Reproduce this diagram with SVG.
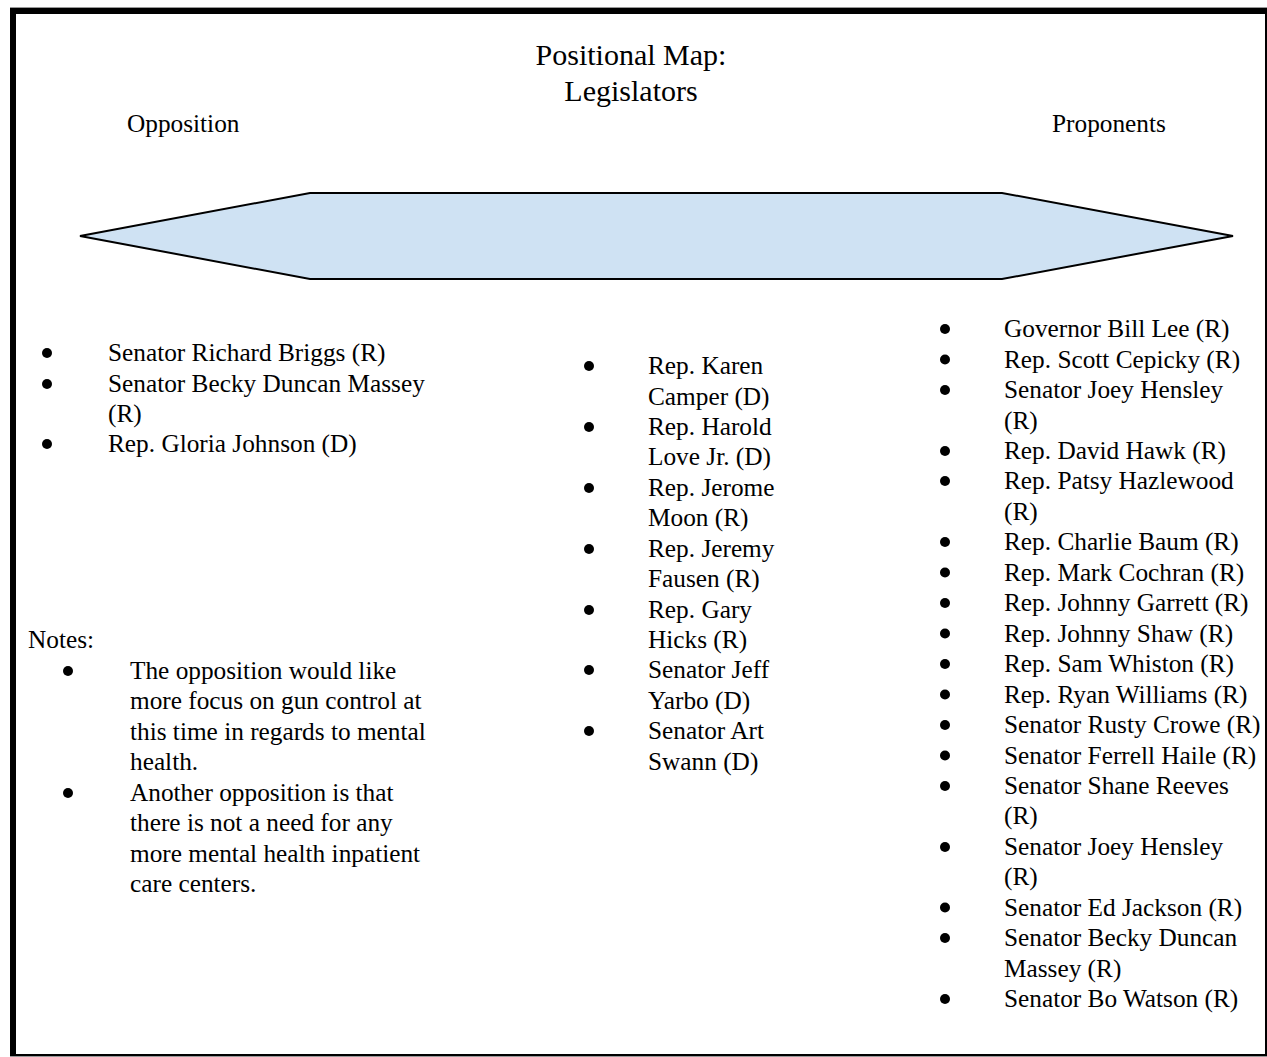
<svg xmlns="http://www.w3.org/2000/svg" width="1267" height="1057" viewBox="0 0 1267 1057">
<style>
  text { font-family: "Liberation Serif", "Times New Roman", serif; fill: #000; }
  .t { font-size: 25.3px; }
  .title { font-size: 30px; text-anchor: middle; }
  .b { fill: #000; }
</style>
<rect width="1267" height="1057" fill="#fff"/>
<line x1="10" y1="7.5" x2="1267" y2="7.5" stroke="#999" stroke-width="1"/>
<rect x="13" y="11" width="1255" height="1046" fill="none" stroke="#000" stroke-width="6"/>
<line x1="10" y1="1056.5" x2="1267" y2="1056.5" stroke="#999" stroke-width="1"/>

<g id="title">
  <text class="title" x="631" y="65">Positional Map:</text>
  <text class="title" x="631" y="101">Legislators</text>
</g>
<g id="label-opposition"><text class="t" x="127" y="132">Opposition</text></g>
<g id="label-proponents"><text class="t" x="1052" y="132">Proponents</text></g>

<g id="spectrum">
  <polygon points="80,236 310,193 1002,193 1233,236 1002,279 310,279" fill="#cfe2f3" stroke="#000" stroke-width="2" stroke-linejoin="miter"/>
</g>

<g id="opposition-list">
  <circle class="b" cx="47" cy="353" r="5"/>
  <circle class="b" cx="47" cy="384" r="5"/>
  <circle class="b" cx="47" cy="444" r="5"/>
  <text class="t" x="108" y="361">Senator Richard Briggs (R)</text>
  <text class="t" x="108" y="392">Senator Becky Duncan Massey</text>
  <text class="t" x="108" y="422">(R)</text>
  <text class="t" x="108" y="452">Rep. Gloria Johnson (D)</text>
</g>

<g id="neutral-list">
  <circle class="b" cx="589" cy="366" r="5"/>
  <circle class="b" cx="589" cy="427" r="5"/>
  <circle class="b" cx="589" cy="488" r="5"/>
  <circle class="b" cx="589" cy="549" r="5"/>
  <circle class="b" cx="589" cy="610" r="5"/>
  <circle class="b" cx="589" cy="670" r="5"/>
  <circle class="b" cx="589" cy="731" r="5"/>
  <text class="t" x="648" y="374">Rep. Karen</text>
  <text class="t" x="648" y="404.5">Camper (D)</text>
  <text class="t" x="648" y="435">Rep. Harold</text>
  <text class="t" x="648" y="465">Love Jr. (D)</text>
  <text class="t" x="648" y="496">Rep. Jerome</text>
  <text class="t" x="648" y="526">Moon (R)</text>
  <text class="t" x="648" y="557">Rep. Jeremy</text>
  <text class="t" x="648" y="587">Fausen (R)</text>
  <text class="t" x="648" y="618">Rep. Gary</text>
  <text class="t" x="648" y="648">Hicks (R)</text>
  <text class="t" x="648" y="678">Senator Jeff</text>
  <text class="t" x="648" y="709">Yarbo (D)</text>
  <text class="t" x="648" y="739">Senator Art</text>
  <text class="t" x="648" y="770">Swann (D)</text>
</g>

<g id="proponents-list">
  <circle class="b" cx="945" cy="329" r="5"/>
  <circle class="b" cx="945" cy="359.5" r="5"/>
  <circle class="b" cx="945" cy="390" r="5"/>
  <circle class="b" cx="945" cy="451" r="5"/>
  <circle class="b" cx="945" cy="481" r="5"/>
  <circle class="b" cx="945" cy="542" r="5"/>
  <circle class="b" cx="945" cy="572.5" r="5"/>
  <circle class="b" cx="945" cy="603" r="5"/>
  <circle class="b" cx="945" cy="633.5" r="5"/>
  <circle class="b" cx="945" cy="664" r="5"/>
  <circle class="b" cx="945" cy="694.5" r="5"/>
  <circle class="b" cx="945" cy="725" r="5"/>
  <circle class="b" cx="945" cy="755.5" r="5"/>
  <circle class="b" cx="945" cy="786" r="5"/>
  <circle class="b" cx="945" cy="847" r="5"/>
  <circle class="b" cx="945" cy="907.5" r="5"/>
  <circle class="b" cx="945" cy="938" r="5"/>
  <circle class="b" cx="945" cy="999" r="5"/>
  <text class="t" x="1004" y="337">Governor Bill Lee (R)</text>
  <text class="t" x="1004" y="367.5">Rep. Scott Cepicky (R)</text>
  <text class="t" x="1004" y="398">Senator Joey Hensley</text>
  <text class="t" x="1004" y="428.5">(R)</text>
  <text class="t" x="1004" y="459">Rep. David Hawk (R)</text>
  <text class="t" x="1004" y="489">Rep. Patsy Hazlewood</text>
  <text class="t" x="1004" y="519.5">(R)</text>
  <text class="t" x="1004" y="550">Rep. Charlie Baum (R)</text>
  <text class="t" x="1004" y="580.5">Rep. Mark Cochran (R)</text>
  <text class="t" x="1004" y="611">Rep. Johnny Garrett (R)</text>
  <text class="t" x="1004" y="641.5">Rep. Johnny Shaw (R)</text>
  <text class="t" x="1004" y="672">Rep. Sam Whiston (R)</text>
  <text class="t" x="1004" y="702.5">Rep. Ryan Williams (R)</text>
  <text class="t" x="1004" y="733">Senator Rusty Crowe (R)</text>
  <text class="t" x="1004" y="763.5">Senator Ferrell Haile (R)</text>
  <text class="t" x="1004" y="794">Senator Shane Reeves</text>
  <text class="t" x="1004" y="824">(R)</text>
  <text class="t" x="1004" y="855">Senator Joey Hensley</text>
  <text class="t" x="1004" y="885">(R)</text>
  <text class="t" x="1004" y="915.5">Senator Ed Jackson (R)</text>
  <text class="t" x="1004" y="946">Senator Becky Duncan</text>
  <text class="t" x="1004" y="976.5">Massey (R)</text>
  <text class="t" x="1004" y="1007">Senator Bo Watson (R)</text>
</g>

<g id="notes">
  <text class="t" x="28" y="648">Notes:</text>
  <circle class="b" cx="68" cy="671" r="5"/>
  <circle class="b" cx="68" cy="793" r="5"/>
  <text class="t" x="130" y="679">The opposition would like</text>
  <text class="t" x="130" y="709">more focus on gun control at</text>
  <text class="t" x="130" y="740">this time in regards to mental</text>
  <text class="t" x="130" y="770">health.</text>
  <text class="t" x="130" y="801">Another opposition is that</text>
  <text class="t" x="130" y="831">there is not a need for any</text>
  <text class="t" x="130" y="862">more mental health inpatient</text>
  <text class="t" x="130" y="892">care centers.</text>
</g>

<g id="connectors"></g>
</svg>
